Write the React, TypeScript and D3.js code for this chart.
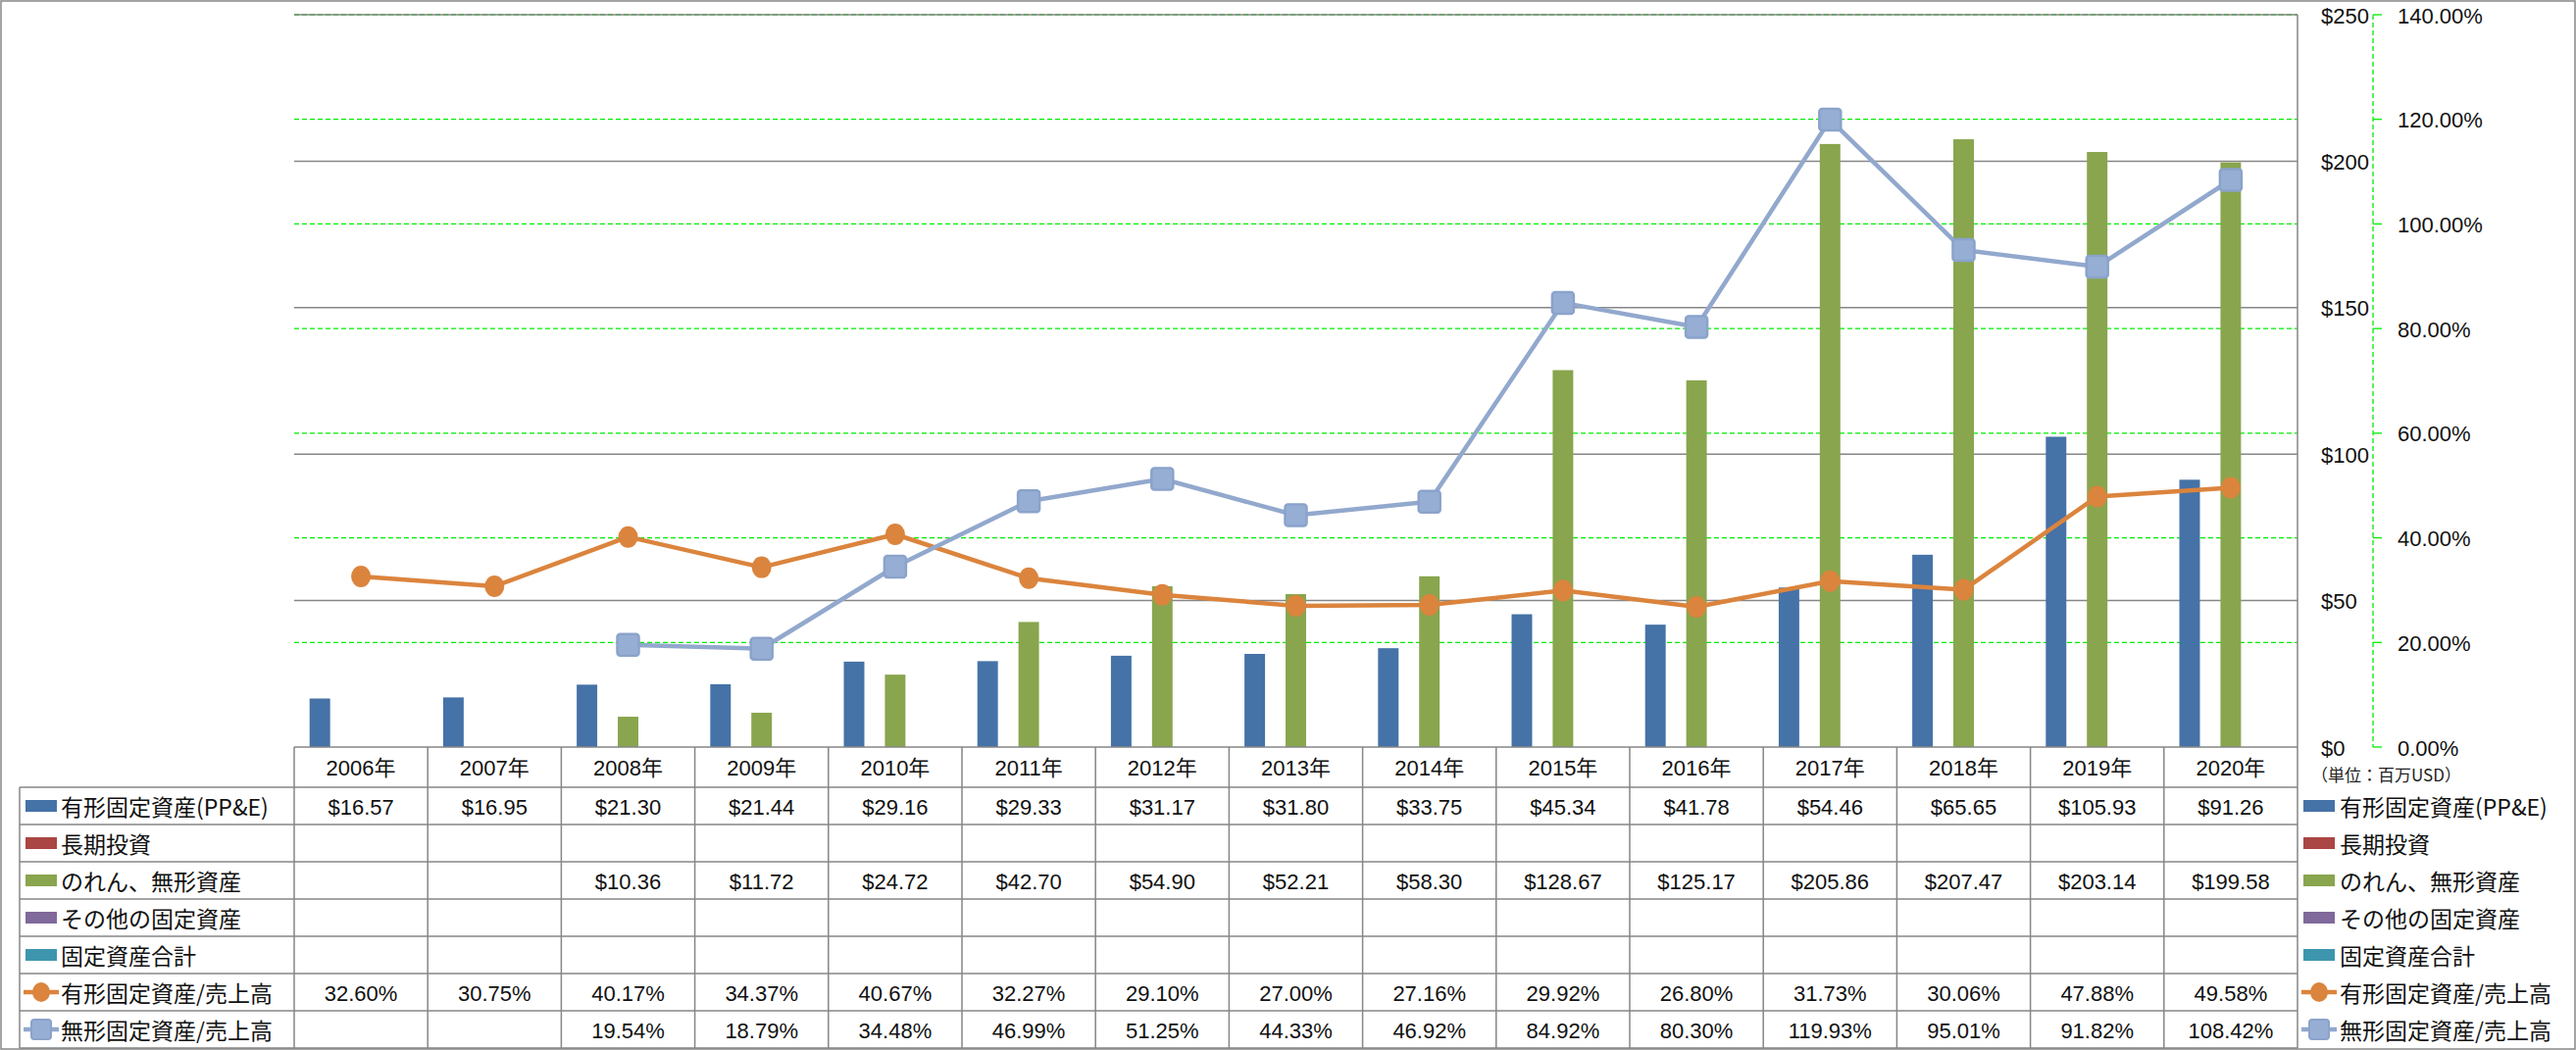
import React from "react";
import * as d3 from "d3";

const years = ["2006年","2007年","2008年","2009年","2010年","2011年","2012年","2013年","2014年","2015年","2016年","2017年","2018年","2019年","2020年"];
const ppe: (number | null)[] = [16.57,16.95,21.30,21.44,29.16,29.33,31.17,31.80,33.75,45.34,41.78,54.46,65.65,105.93,91.26];
const longInv: (number | null)[] = [null,null,null,null,null,null,null,null,null,null,null,null,null,null,null];
const goodwill: (number | null)[] = [null,null,10.36,11.72,24.72,42.70,54.90,52.21,58.30,128.67,125.17,205.86,207.47,203.14,199.58];
const otherFixed: (number | null)[] = [null,null,null,null,null,null,null,null,null,null,null,null,null,null,null];
const totalFixed: (number | null)[] = [null,null,null,null,null,null,null,null,null,null,null,null,null,null,null];
const ppeRatio: (number | null)[] = [0.3260,0.3075,0.4017,0.3437,0.4067,0.3227,0.2910,0.2700,0.2716,0.2992,0.2680,0.3173,0.3006,0.4788,0.4958];
const intRatio: (number | null)[] = [null,null,0.1954,0.1879,0.3448,0.4699,0.5125,0.4433,0.4692,0.8492,0.8030,1.1993,0.9501,0.9182,1.0842];

const leftTicks = [0, 50, 100, 150, 200, 250];
const rightTicks = [0, 0.2, 0.4, 0.6, 0.8, 1.0, 1.2, 1.4];
const unitLabel = "（単位：百万USD）";

const barSeries = [
  { name: "有形固定資産(PP&E)", color: "#4572A7", values: ppe },
  { name: "長期投資", color: "#AA4643", values: longInv },
  { name: "のれん、無形資産", color: "#89A54E", values: goodwill },
  { name: "その他の固定資産", color: "#80699B", values: otherFixed },
  { name: "固定資産合計", color: "#3D96AE", values: totalFixed },
];
const lineSeries = [
  { name: "有形固定資産/売上高", color: "#DB843D", values: ppeRatio, marker: "circle" },
  { name: "無形固定資産/売上高", color: "#92A8CD", values: intRatio, marker: "square" },
];

const W = 2627, H = 1071;
const PL = 300, PR = 2343, PT = 15, PB = 762;
const TL = 20;
const ROW0 = 803, ROWH = 38;
const FONT = "'Noto Sans CJK JP', 'Noto Sans', sans-serif";
const NUMFONT = "'Liberation Sans', 'Noto Sans CJK JP', sans-serif";
const GRID = "#868686";

export default function App() {
  const yL = d3.scaleLinear().domain([0, 250]).range([PB, PT]);
  const yR = d3.scaleLinear().domain([0, 1.4]).range([PB, PT]);
  const x0 = d3.scaleBand<string>().domain(years).range([PL, PR]).paddingInner(0).paddingOuter(0);
  const x1 = d3.scaleBand<number>().domain(d3.range(barSeries.length)).range([0, x0.bandwidth()]).paddingInner(0).paddingOuter(0.75);
  const cx = (i: number) => (x0(years[i]) as number) + x0.bandwidth() / 2;
  const fmtD = d3.format("$.2f");
  const fmtP = d3.format(".2%");
  const fmtAxisD = (v: number) => "$" + d3.format(",.0f")(v);

  const rows = [
    ...barSeries.map((s) => ({ ...s, kind: "bar", fmt: fmtD })),
    ...lineSeries.map((s) => ({ ...s, kind: s.marker, fmt: fmtP })),
  ];

  const legendKey = (kind: string, color: string, x: number, y: number) => {
    if (kind === "bar") return <rect x={x} y={y - 6} width={32} height={12} fill={color} />;
    return (
      <g>
        <line x1={x - 2} x2={x + 34} y1={y} y2={y} stroke={color} strokeWidth={4.5} />
        {kind === "circle" ? (
          <ellipse cx={x + 16} cy={y} rx={9} ry={10} fill={color} />
        ) : (
          <rect x={x + 6} y={y - 10} width={20} height={20} rx={3} fill="#97AED4" stroke="#8BA3CB" strokeWidth={2} />
        )}
      </g>
    );
  };

  return (
    <div>
      <style>{`body{margin:0}`}</style>
      <svg width={W} height={H} style={{ display: "block", fontFamily: FONT }}>
        <rect x={0} y={0} width={W} height={H} fill="#fff" />
        <rect x={1} y={1} width={W - 2} height={H - 2} fill="none" stroke={GRID} strokeWidth={1.5} />

        {rightTicks.filter((t) => t > 0).map((t) => (
          <line key={"g" + t} x1={PL} x2={PR} y1={yR(t)} y2={yR(t)} stroke="#00EE00" strokeWidth={1.3} strokeDasharray="5,3" />
        ))}
        {leftTicks.filter((t) => t > 0).map((t) => (
          <line key={"l" + t} x1={PL} x2={PR} y1={yL(t)} y2={yL(t)} stroke={GRID} strokeWidth={1.5} />
        ))}
        <line x1={PR} x2={PR} y1={PT} y2={PB} stroke={GRID} strokeWidth={1.5} />

        {barSeries.map((s, si) =>
          s.values.map((v, i) =>
            v == null ? null : (
              <rect key={si + "-" + i} x={(x0(years[i]) as number) + (x1(si) as number)} y={yL(v)} width={x1.bandwidth()} height={PB - yL(v)} fill={s.color} />
            )
          )
        )}

        {lineSeries.map((s, si) => {
          const pts = s.values.map((v, i) => (v == null ? null : [cx(i), yR(v)] as [number, number])).filter((p) => p) as [number, number][];
          const path = d3.line()(pts) as string;
          return (
            <g key={"ls" + si}>
              <path d={path} fill="none" stroke={s.color} strokeWidth={4.5} strokeLinejoin="round" />
              {pts.map((p, k) =>
                s.marker === "circle" ? (
                  <ellipse key={k} cx={p[0]} cy={p[1]} rx={10} ry={11} fill={s.color} />
                ) : (
                  <rect key={k} x={p[0] - 11} y={p[1] - 11} width={22} height={22} rx={3} fill="#97AED4" stroke="#8BA3CB" strokeWidth={2.5} />
                )
              )}
            </g>
          );
        })}

        <line x1={2420} x2={2420} y1={PT} y2={PB} stroke="#00EE00" strokeWidth={1.3} strokeDasharray="5,3" />
        {rightTicks.map((t) => (
          <g key={"rt" + t}>
            <line x1={2420} x2={2429} y1={yR(t)} y2={yR(t)} stroke="#00EE00" strokeWidth={1.3} />
            <text x={2445} y={yR(t) + 1} dominantBaseline="central" fontSize={22} fontFamily={NUMFONT} fill="#111">{fmtP(t)}</text>
          </g>
        ))}
        {leftTicks.map((t) => (
          <text key={"lt" + t} x={2367} y={yL(t) + 1} dominantBaseline="central" fontSize={22} fontFamily={NUMFONT} fill="#111">{fmtAxisD(t)}</text>
        ))}
        <text x={2357} y={789} dominantBaseline="central" fontSize={17} fill="#222">{unitLabel}</text>

        <line x1={PL} x2={PR} y1={PB} y2={PB} stroke={GRID} strokeWidth={1.5} />
        {d3.range(rows.length + 1).map((r) => (
          <line key={"hr" + r} x1={TL} x2={PR} y1={ROW0 + r * ROWH} y2={ROW0 + r * ROWH} stroke={GRID} strokeWidth={1.5} />
        ))}
        <line x1={TL} x2={TL} y1={ROW0} y2={ROW0 + rows.length * ROWH} stroke={GRID} strokeWidth={1.5} />
        {years.map((y, i) => (
          <line key={"vc" + i} x1={x0(y) as number} x2={x0(y) as number} y1={PB} y2={ROW0 + rows.length * ROWH} stroke={GRID} strokeWidth={1.5} />
        ))}
        <line x1={PR} x2={PR} y1={PB} y2={ROW0 + rows.length * ROWH} stroke={GRID} strokeWidth={1.5} />
        {years.map((y, i) => (
          <text key={"yh" + i} x={cx(i)} y={783} textAnchor="middle" dominantBaseline="central" fontSize={22} fontFamily={NUMFONT} fill="#111">{y}</text>
        ))}
        {rows.map((r, ri) => {
          const yc = ROW0 + ri * ROWH + ROWH / 2;
          return (
            <g key={"row" + ri}>
              {legendKey(r.kind, r.color, 26, yc)}
              <text x={62} y={yc} dominantBaseline="central" fontSize={23} fill="#111">{r.name}</text>
              {r.values.map((v, i) =>
                v == null ? null : (
                  <text key={i} x={cx(i)} y={yc + 1} textAnchor="middle" dominantBaseline="central" fontSize={22} fontFamily={NUMFONT} fill="#111">{r.fmt(v)}</text>
                )
              )}
              {legendKey(r.kind, r.color, 2349, yc)}
              <text x={2386} y={yc} dominantBaseline="central" fontSize={23} fill="#111">{r.name}</text>
            </g>
          );
        })}
      </svg>
    </div>
  );
}
